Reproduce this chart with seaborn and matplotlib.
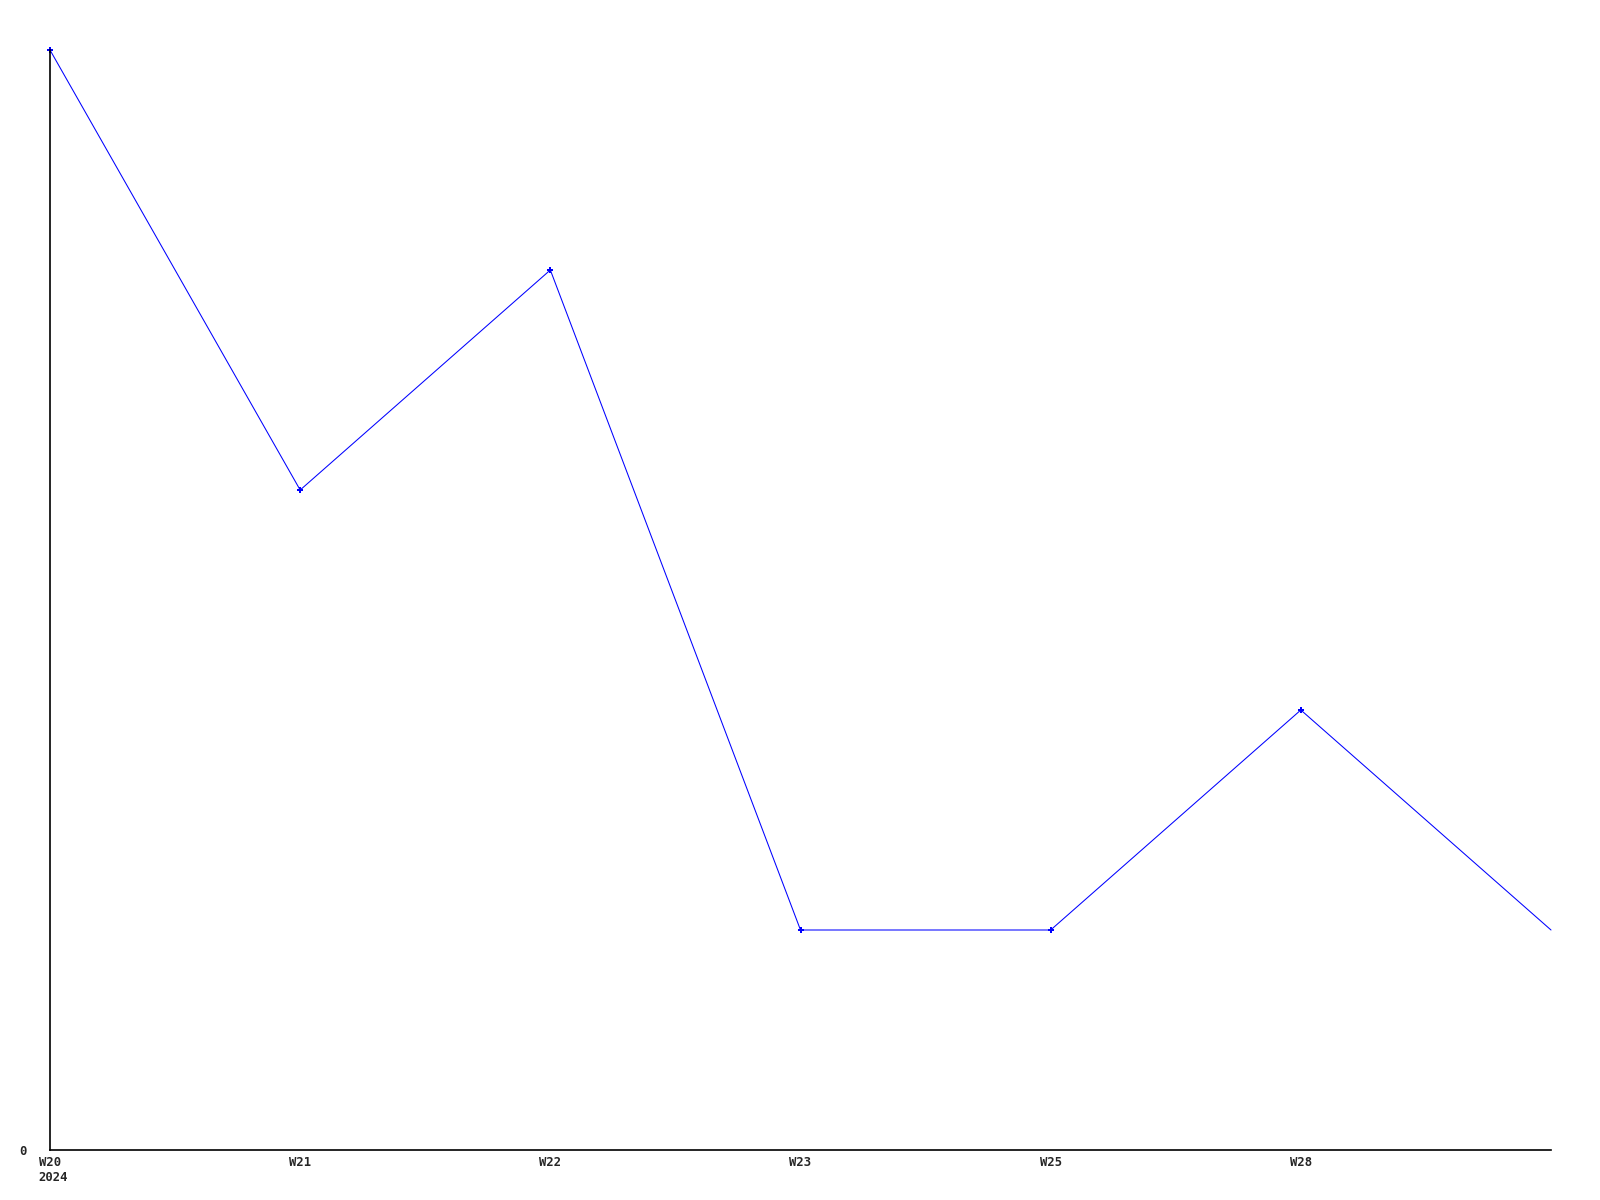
import matplotlib
matplotlib.use("Agg")
import matplotlib.pyplot as plt
import matplotlib.transforms as mtransforms
import seaborn as sns
import pandas as pd

# data
weeks_idx = [0, 1, 2, 3, 4, 5, 6]
values = [5, 3, 4, 1, 1, 2, 1]
tick_labels = ["W20\n2024", "W21", "W22", "W23", "W25", "W28", ""]
y_ticks = [0]
y_tick_labels = ["0"]

sns.set_theme(style="white")
plt.rcParams['font.family'] = ['DejaVu Sans Mono', 'DejaVu Sans']

df = pd.DataFrame({"x": weeks_idx, "y": values})

fig = plt.figure(figsize=(16, 12), dpi=100)
ax = fig.add_axes([50/1600, 50/1200, 1501/1600, 1100/1200])
sns.lineplot(data=df, x="x", y="y", ax=ax, color="#0000ff", linewidth=0.75,
             marker="P", markersize=4, markeredgewidth=0, clip_on=False,
             markevery=[0, 1, 2, 3, 4, 5])

ax.set_xlim(0, 6)
ax.set_ylim(0, 5)
ax.set_xticks(weeks_idx)
ax.set_xticklabels(tick_labels, fontsize=8.8, fontweight="bold", linespacing=1.25)
ax.set_yticks(y_ticks)
ax.set_yticklabels(y_tick_labels, fontsize=8.8, fontweight="bold")
ax.tick_params(axis="x", length=0, pad=4)
ax.tick_params(axis="y", length=0, pad=17)
xl = ax.get_xticklabels()
for lab in xl:
    lab.set_verticalalignment("top")
# first label: left-aligned block, first line centered on the tick
xl[0].set_horizontalalignment("left")
xl[0].set_multialignment("left")
xl[0].set_transform(xl[0].get_transform() +
                    mtransforms.ScaledTranslation(-11.3/100, 0, fig.dpi_scale_trans))
ax.set_xlabel("")
ax.set_ylabel("")
for s in ["top", "right"]:
    ax.spines[s].set_visible(False)
for s in ["left", "bottom"]:
    ax.spines[s].set_color("black")
    ax.spines[s].set_linewidth(1.2)

fig.savefig("out.png", dpi=100, facecolor="white")
